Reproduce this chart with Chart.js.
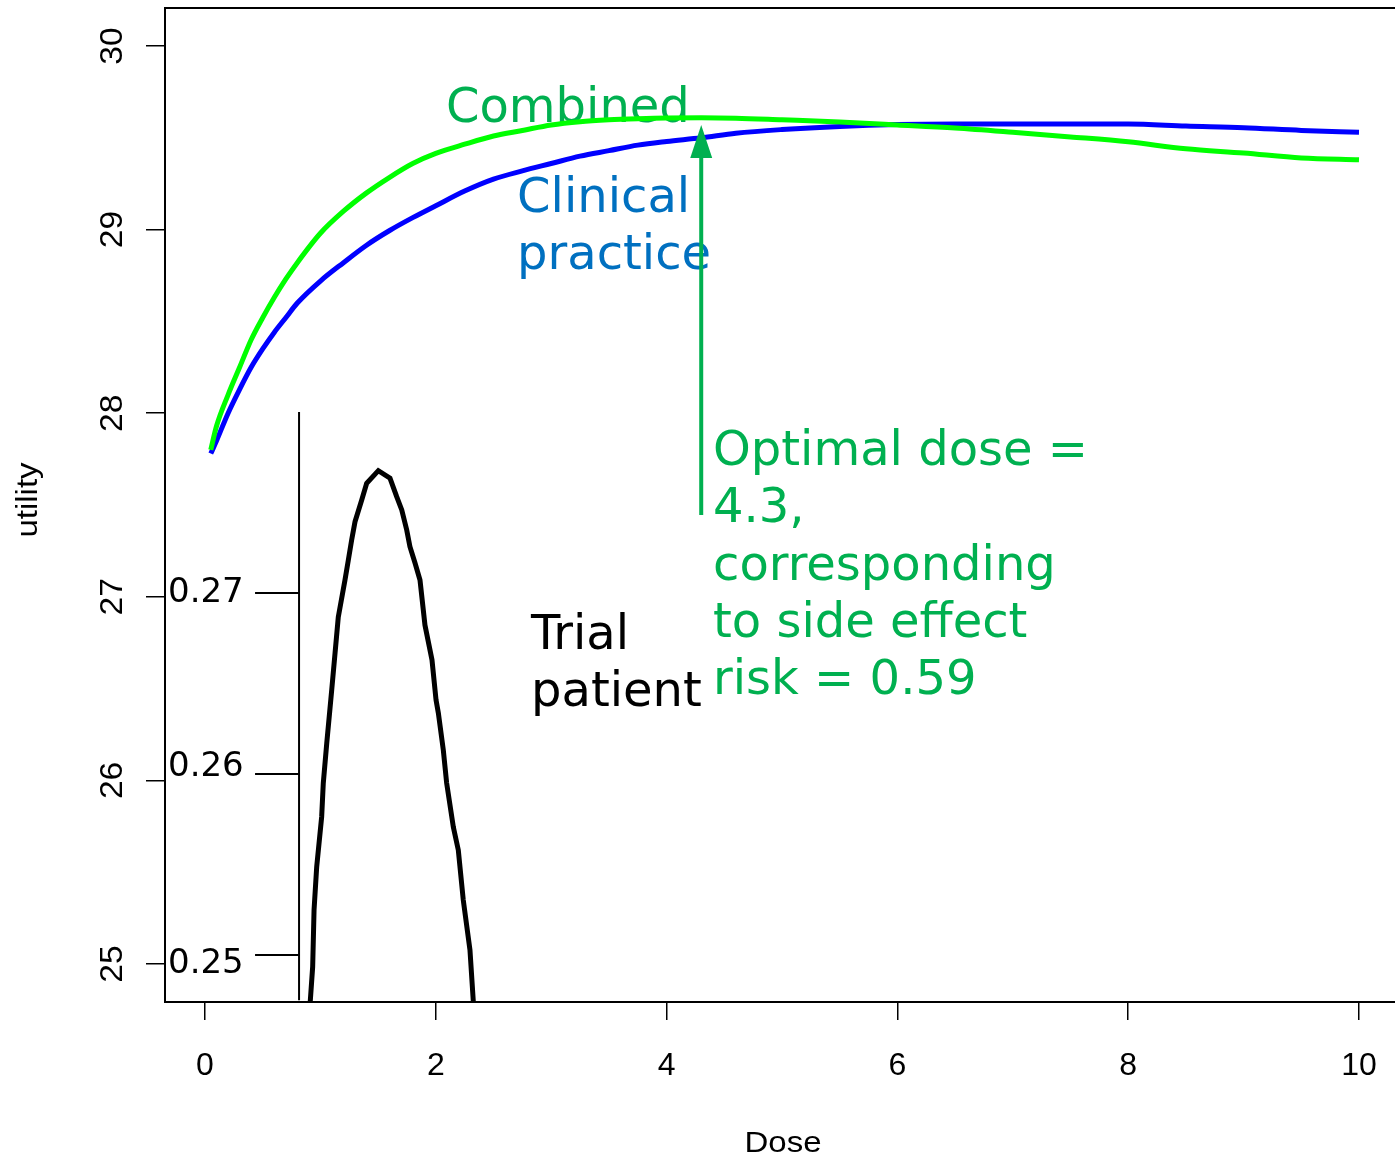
<!DOCTYPE html>
<html><head><meta charset="utf-8">
<script src="https://cdn.jsdelivr.net/npm/chart.js@4/dist/chart.umd.min.js"></script>
<style>html,body{margin:0;padding:0;background:#fff;overflow:hidden}</style>
</head><body>
<canvas id="c" width="1395" height="1157"></canvas>
<script>
// ---------- data ----------
const doseGrid = [0.05,0.1,0.2,0.3,0.4,0.5,0.6,0.7,0.8,1.0,1.2,1.4,1.6,1.8,2.0,2.25,2.5,2.75,3.0,3.25,3.5,3.75,4.0,4.3,4.6,5.0,5.5,6.0,6.5,7.0,7.5,8.0,8.5,9.0,9.5,10.0];
const combinedUtility = [27.80,27.93,28.10,28.25,28.40,28.52,28.63,28.73,28.82,28.98,29.10,29.20,29.285,29.36,29.415,29.465,29.51,29.54,29.57,29.588,29.598,29.604,29.608,29.609,29.607,29.598,29.586,29.57,29.553,29.53,29.505,29.478,29.44,29.417,29.39,29.38];
const clinicalUtility = [27.78,27.85,28.00,28.13,28.25,28.35,28.44,28.52,28.60,28.72,28.82,28.915,28.995,29.065,29.13,29.21,29.275,29.32,29.36,29.40,29.43,29.46,29.48,29.50,29.525,29.545,29.562,29.572,29.575,29.575,29.575,29.575,29.564,29.555,29.54,29.53];
const trialDose = [0.91,0.933,0.945,0.968,1.011,1.025,1.055,1.098,1.127,1.155,1.213,1.242,1.271,1.300,1.358,1.401,1.502,1.603,1.661,1.705,1.748,1.776,1.820,1.863,1.906,1.967,2.002,2.022,2.065,2.094,2.152,2.195,2.238,2.296,2.327];
const trialSideEffect = [0.24724,0.24935,0.25249,0.25488,0.25764,0.25949,0.26170,0.26464,0.26669,0.26867,0.27072,0.27182,0.27293,0.27394,0.27514,0.27606,0.27676,0.27635,0.27532,0.27459,0.27348,0.27256,0.27166,0.27072,0.26823,0.26630,0.26409,0.26337,0.26133,0.25950,0.25707,0.25580,0.25304,0.25028,0.24724];
const xTickValues = [0,2,4,6,8,10];
const yTickValues = [25,26,27,28,29,30];
const insetTickValues = [0.25,0.26,0.27];
const insetTickLabels = ['0.25','0.26','0.27'];
const insetAxisDose = 0.815;
const insetAxisRange = [0.2475,0.28];
const optimalDose = 4.3;
const arrowFrom = 27.446, arrowTo = 29.57;
const annotationTexts = [
  {lines:['Combined'], dose:2.088, utility:29.586, color:'#00B050'},
  {lines:['Clinical','practice'], dose:2.704, utility:29.096, color:'#0070C0'},
  {lines:['Optimal dose =','4.3,','corresponding','to side effect','risk = 0.59'], dose:4.402, utility:27.718, color:'#00B050'},
  {lines:['Trial','patient'], dose:2.825, utility:26.718, color:'#000000'}
];
const xTitle = 'Dose', yTitle = 'utility';

// ---------- styles ----------
const ANN_FONT = '48px "DejaVu Sans", sans-serif';
const ANN_LINE = 57.3;
const AX_FONT_FAMILY = '"Liberation Sans", Arial, sans-serif';
const insetLabelShift = [18, 2, 9];

const decor = {
  id: 'decor',
  beforeDatasetsDraw(chart) {
    const {ctx, scales: {x, y}} = chart;
    ctx.save();
    ctx.font = ANN_FONT;
    ctx.textAlign = 'left';
    ctx.textBaseline = 'alphabetic';
    annotationTexts.forEach(a => {
      const px = x.getPixelForValue(a.dose), py = y.getPixelForValue(a.utility);
      ctx.fillStyle = a.color;
      a.lines.forEach((t, i) => ctx.fillText(t, px, py + i * ANN_LINE));
    });
    ctx.restore();
  },
  afterDraw(chart) {
    const {ctx, chartArea: a, scales: {x, y, y2}} = chart;
    ctx.save();
    // box
    ctx.strokeStyle = '#000'; ctx.lineWidth = 2;
    ctx.beginPath();
    ctx.moveTo(a.right + 10, a.bottom); ctx.lineTo(a.left, a.bottom);
    ctx.lineTo(a.left, a.top); ctx.lineTo(a.right + 10, a.top);
    ctx.stroke();
    // y tick labels (rotated)
    ctx.fillStyle = '#000';
    ctx.font = '32px ' + AX_FONT_FAMILY;
    ctx.textAlign = 'center'; ctx.textBaseline = 'alphabetic';
    y.ticks.forEach(t => {
      const py = y.getPixelForValue(t.value);
      ctx.save(); ctx.translate(121.5, py); ctx.rotate(-Math.PI / 2); ctx.scale(1.05, 1);
      ctx.fillText(String(t.value), 0, 0); ctx.restore();
    });
    // axis titles
    ctx.font = '30px ' + AX_FONT_FAMILY;
    ctx.save();
    ctx.translate((x.getPixelForValue(xTickValues[0]) + x.getPixelForValue(xTickValues[xTickValues.length-1])) / 2 + 1, 1151.5);
    ctx.scale(1.1, 1);
    ctx.fillText(xTitle, 0, 0);
    ctx.restore();
    ctx.save(); ctx.translate(37, (a.top + a.bottom) / 2 - 5); ctx.rotate(-Math.PI / 2); ctx.scale(1.1, 1);
    ctx.fillText(yTitle, 0, 0); ctx.restore();
    // inset axis
    const ix = x.getPixelForValue(insetAxisDose);
    ctx.lineWidth = 2;
    ctx.beginPath();
    ctx.moveTo(ix, y2.getPixelForValue(insetAxisRange[1]));
    ctx.lineTo(ix, y2.getPixelForValue(insetAxisRange[0]));
    insetTickValues.forEach(v => {
      const py = y2.getPixelForValue(v);
      ctx.moveTo(ix, py); ctx.lineTo(ix - 44, py);
    });
    ctx.stroke();
    ctx.font = '34px "DejaVu Sans", sans-serif';
    ctx.textAlign = 'left';
    insetTickValues.forEach((v, i) => {
      ctx.fillText(insetTickLabels[i], 168, y2.getPixelForValue(v) + insetLabelShift[i]);
    });
    // arrow
    const ax = x.getPixelForValue(optimalDose);
    const y0 = y.getPixelForValue(arrowFrom), y1 = y.getPixelForValue(arrowTo);
    ctx.strokeStyle = '#00B050'; ctx.fillStyle = '#00B050'; ctx.lineWidth = 4;
    ctx.beginPath(); ctx.moveTo(ax, y0); ctx.lineTo(ax, y1 + 30); ctx.stroke();
    ctx.beginPath(); ctx.moveTo(ax, y1); ctx.lineTo(ax - 11, y1 + 33); ctx.lineTo(ax + 11, y1 + 33); ctx.closePath(); ctx.fill();
    ctx.restore();
  }
};

new Chart(document.getElementById('c'), {
  type: 'line',
  data: {
    datasets: [
      {label: 'Combined', data: doseGrid.map((d, i) => ({x: d, y: combinedUtility[i]})), borderColor: '#00FF00', borderWidth: 5, pointRadius: 0, yAxisID: 'y', cubicInterpolationMode: 'monotone', fill: false},
      {label: 'Clinical practice', data: doseGrid.map((d, i) => ({x: d, y: clinicalUtility[i]})), borderColor: '#0000FF', borderWidth: 5, pointRadius: 0, yAxisID: 'y', cubicInterpolationMode: 'monotone', fill: false},
      {label: 'Trial patient', data: trialDose.map((d, i) => ({x: d, y: trialSideEffect[i]})), borderColor: '#000000', borderWidth: 5, pointRadius: 0, yAxisID: 'y2', tension: 0, fill: false}
    ]
  },
  options: {
    responsive: false, animation: false, devicePixelRatio: 1, events: [],
    layout: {padding: {top: 8, left: 0, right: 0, bottom: 0}},
    plugins: {legend: {display: false}, tooltip: {enabled: false}},
    scales: {
      x: {
        type: 'linear', position: 'bottom', min: -0.34662, max: 10.31196,
        afterBuildTicks: s => { s.ticks = xTickValues.map(v => ({value: v})); },
        afterFit: s => { s.height = 155; s.paddingLeft = 0; s.paddingRight = 0; },
        grid: {drawOnChartArea: false, drawTicks: true, tickLength: 18, color: '#000', lineWidth: 1.5},
        border: {display: false},
        ticks: {font: {family: AX_FONT_FAMILY, size: 32}, color: '#000', padding: 27, maxRotation: 0, minRotation: 0, autoSkip: false}
      },
      y: {
        type: 'linear', position: 'left', min: 24.793, max: 30.207,
        afterBuildTicks: s => { s.ticks = yTickValues.map(v => ({value: v})); },
        afterFit: s => { s.width = 165; s.paddingTop = 0; s.paddingBottom = 0; },
        grid: {drawOnChartArea: false, drawTicks: true, tickLength: 19, color: '#000', lineWidth: 1.5},
        border: {display: false},
        ticks: {display: false}
      },
      y2: {type: 'linear', display: false, min: 0.247403, max: 0.30232}
    }
  },
  plugins: [decor]
});
</script>
</body></html>
